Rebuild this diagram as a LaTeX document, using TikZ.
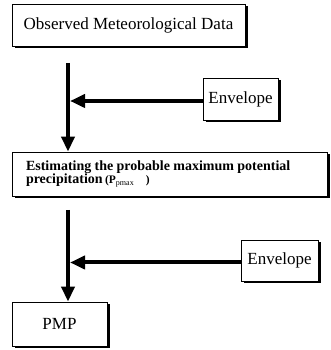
\documentclass[tikz,border=0pt]{standalone}
\usepackage{fontspec}
\setmainfont{Liberation Serif}
\usepackage{tikz}
\usetikzlibrary{arrows.meta, calc, positioning, shadows}

\tikzset{
  stepbox/.style={draw, line width=0.8pt, fill=white, inner sep=0pt,
    drop shadow={shadow xshift=2.5pt, shadow yshift=-2.5pt, fill=black, opacity=1}},
  flow/.style={line width=4pt, -{Triangle[length=15pt, width=13pt]}},
}

\begin{document}
\begin{tikzpicture}[x=1pt, y=1pt]
  \useasboundingbox (0,0) rectangle (330,350);

  % boxes
  \node[stepbox, minimum width=233pt, minimum height=42pt] (obs) at (128.5,325)
    {\fontsize{17}{20}\selectfont Observed Meteorological Data};
  \node[stepbox, minimum width=75pt, minimum height=42pt] (env1) at (240.5,251)
    {\fontsize{17}{20}\selectfont Envelope};
  \node[stepbox, minimum width=315pt, minimum height=44pt, align=left,
        text width=287pt, inner xsep=14pt] (est) at (169.5,176)
    {\fontsize{14}{19}\selectfont\bfseries Estimating the probable maximum potential\\
     precipitation\,{\fontsize{11.5}{19}\selectfont(P$_{\mathrm{pmax}}$\quad)}};
  \node[stepbox, minimum width=77pt, minimum height=41pt] (env2) at (279.5,89.5)
    {\fontsize{17}{20}\selectfont Envelope};
  \node[stepbox, minimum width=95pt, minimum height=44pt] (pmp) at (59.5,26)
    {\fontsize{17}{20}\selectfont PMP};

  % flow lines
  \coordinate (v1) at (68,287);
  \coordinate (v2) at (68,140);
  \draw[flow] (v1) -- (v1 |- est.north);
  \draw[flow] ($(env1.west)+(0,-2)$) -- ($(env1.west -| v1)+(2,-2)$);
  \draw[flow] (v2) -- (v2 |- pmp.north);
  \draw[flow] ($(env2.west)+(0,-2)$) -- ($(env2.west -| v2)+(2,-2)$);
\end{tikzpicture}
\end{document}
